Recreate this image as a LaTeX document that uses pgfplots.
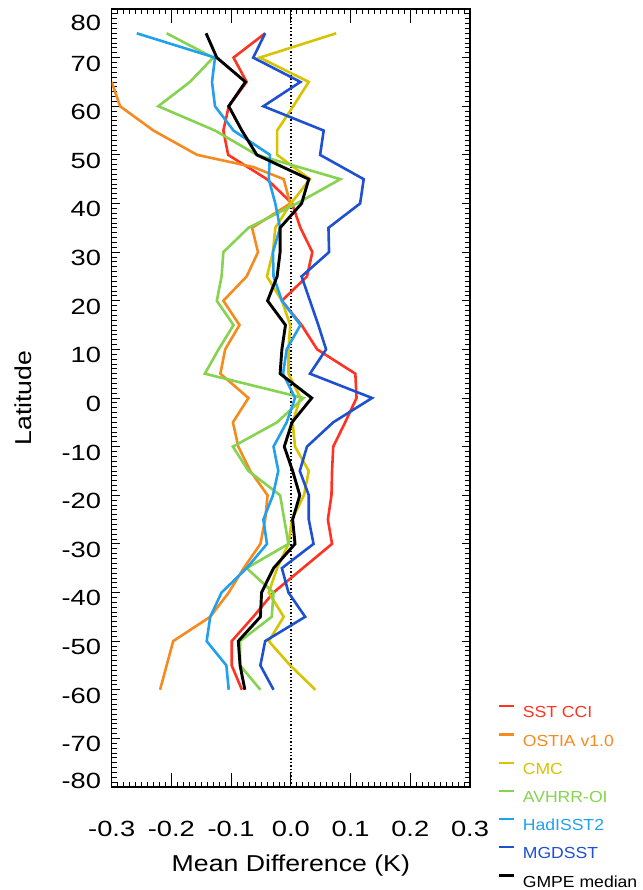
\documentclass[border=0pt]{standalone}
\usepackage{pgfplots}
\pgfplotsset{compat=1.18}
\usepackage{fontspec}
\setmainfont{Liberation Sans}[FakeStretch=1.16]
\newfontfamily\tickfont{Liberation Sans}[FakeStretch=1.24]
\newfontfamily\legfont{Liberation Sans}[FakeStretch=1.1]
\definecolor{csst}{HTML}{FF3322}
\definecolor{costia}{HTML}{F58A1F}
\definecolor{ccmc}{HTML}{D8C300}
\definecolor{cavhrr}{HTML}{85D34E}
\definecolor{chad}{HTML}{22A0EE}
\definecolor{cmgd}{HTML}{1E50D2}
\newcommand\yl[2]{\raisebox{-#1pt}[0pt][0pt]{#2}}
\begin{document}
\begin{tikzpicture}
\path[use as bounding box] (-111.7pt,-103pt) rectangle (530.3pt,787pt);
\begin{axis}[
    at={(0,0)}, anchor=south west,
    scale only axis,
    width=358.3pt, height=778pt,
    xmin=-0.3, xmax=0.3,
    ymin=-80, ymax=80,
    xtick={-0.3,-0.2,-0.1,0,0.1,0.2,0.3},
    xticklabels={-0.3,-0.2,-0.1,0.0,0.1,0.2,0.3},
    ytick={-80,-70,-60,-50,-40,-30,-20,-10,0,10,20,30,40,50,60,70,80},
    yticklabels={\yl{1.9}{-80},\yl{13.4}{-70},\yl{13.4}{-60},\yl{13.4}{-50},\yl{13.4}{-40},\yl{13.4}{-30},\yl{13.4}{-20},\yl{13.4}{-10},\yl{13.4}{0},\yl{13.4}{10},\yl{13.4}{20},\yl{13.4}{30},\yl{13.4}{40},\yl{13.4}{50},\yl{13.4}{60},\yl{13.4}{70},\yl{21.9}{80}},
    minor x tick num=9,
    minor y tick num=9,
    tick align=inside,
    major tick length=8pt,
    minor tick length=5pt,
    xtick style={/pgfplots/major tick length=14pt},
    tick style={black, line width=0.8pt},
    axis line style={line width=1.2pt},
    ticklabel style={font=\tickfont\fontsize{22}{26}\selectfont},
    xticklabel style={anchor=base, yshift=-49.7pt},
    yticklabel style={anchor=east, inner sep=0pt, xshift=-10.5pt},
    xlabel={Mean Difference (K)},
    ylabel={Latitude},
    label style={font=\fontsize{23}{27}\selectfont},
    xlabel style={at={(axis description cs:0.5,-0.1089)}, anchor=base},
    ylabel style={at={(axis description cs:-0.2477,0.5)}, anchor=center},
    legend style={at={(axis description cs:1.078,0.1054)}, anchor=north west,
        draw=none, fill=none, inner sep=0pt, row sep=15.6pt, column sep=7.5pt,
        font=\legfont\fontsize{16}{18}\selectfont,
        nodes={inner sep=0pt, text height=11.5pt, text depth=0pt}},
    legend cell align=left,
    legend image code/.code={\draw[#1, line width=2.2pt] (0pt,5.75pt) -- (15pt,5.75pt);},
]
\addplot[black, dotted, line width=1.4pt, forget plot] coordinates {(0,-80) (0,80)};
% SST CCI
\addplot[csst, line width=2.6pt] coordinates {
(-0.082,-60) (-0.099,-55) (-0.099,-50) (-0.063,-45) (-0.029,-40) (0.020,-35)
(0.069,-30) (0.062,-25) (0.068,-20) (0.069,-15) (0.071,-10) (0.091,-5)
(0.110,0) (0.108,5) (0.044,10) (0.018,15) (-0.015,20) (0.027,25)
(0.036,30) (0.016,35) (0.002,40) (-0.040,45) (-0.105,50) (-0.113,55)
(-0.104,60) (-0.074,65) (-0.096,70) (-0.043,75)
};
\addlegendentry{\textcolor{csst}{SST CCI}}
% OSTIA v1.0
\addplot[costia, line width=2.6pt] coordinates {
(-0.219,-60) (-0.208,-55) (-0.197,-50) (-0.135,-45) (-0.104,-40) (-0.079,-35)
(-0.051,-30) (-0.043,-25) (-0.039,-20) (-0.068,-15) (-0.088,-10) (-0.097,-5)
(-0.071,0) (-0.118,5) (-0.110,10) (-0.086,15) (-0.113,20) (-0.074,25)
(-0.055,30) (-0.065,35) (-0.001,40) (-0.012,45) (-0.063,47.5) (-0.157,50)
(-0.230,55) (-0.286,60) (-0.300,65)
};
\addlegendentry{\textcolor{costia}{OSTIA v1.0}}
% CMC
\addplot[ccmc, line width=2.6pt] coordinates {
(0.041,-60) (-0.001,-55) (-0.037,-50) (-0.012,-45) (-0.037,-40) (-0.023,-35)
(-0.004,-30) (0.002,-25) (0.022,-20) (0.030,-15) (0.007,-10) (0.003,-5)
(0.016,0) (-0.004,5) (-0.004,10) (-0.001,15) (-0.015,20) (-0.040,25)
(-0.030,30) (-0.026,35) (0.000,40) (0.032,45) (-0.023,50) (-0.023,55)
(0.004,60) (0.030,65) (-0.052,70) (0.076,75)
};
\addlegendentry{\textcolor{ccmc}{CMC}}
% AVHRR-OI
\addplot[cavhrr, line width=2.6pt] coordinates {
(-0.051,-60) (-0.085,-55) (-0.085,-50) (-0.032,-45) (-0.029,-40) (-0.074,-35)
(-0.004,-30) (-0.011,-25) (-0.018,-20) (-0.071,-15) (-0.097,-10) (-0.023,-5)
(0.021,0) (-0.144,5) (-0.121,10) (-0.096,15) (-0.124,20) (-0.116,25)
(-0.113,30) (-0.071,35) (0.010,40) (0.083,45) (-0.057,50) (-0.127,55)
(-0.222,60) (-0.169,65) (-0.130,70) (-0.208,75)
};
\addlegendentry{\textcolor{cavhrr}{AVHRR-OI}}
% HadISST2
\addplot[chad, line width=2.6pt] coordinates {
(-0.104,-60) (-0.108,-55) (-0.141,-50) (-0.135,-45) (-0.116,-40) (-0.074,-35)
(-0.040,-30) (-0.046,-25) (-0.030,-20) (-0.021,-15) (-0.029,-10) (-0.007,-5)
(0.007,0) (-0.013,5) (-0.007,10) (0.016,15) (-0.015,20) (-0.029,25)
(-0.030,30) (-0.018,35) (-0.026,40) (-0.037,45) (-0.035,50) (-0.096,55)
(-0.127,60) (-0.132,65) (-0.127,70) (-0.258,75)
};
\addlegendentry{\textcolor{chad}{HadISST2}}
% MGDSST
\addplot[cmgd, line width=2.6pt] coordinates {
(-0.029,-60) (-0.051,-55) (-0.043,-50) (0.024,-45) (-0.004,-40) (-0.015,-35)
(0.038,-30) (0.030,-25) (0.030,-20) (0.015,-15) (0.027,-10) (0.071,-5)
(0.136,0) (0.032,5) (0.059,10) (0.046,15) (0.032,20) (0.018,25)
(0.064,30) (0.063,35) (0.116,40) (0.122,45) (0.049,50) (0.055,55)
(-0.046,60) (0.016,65) (-0.063,70) (-0.043,75)
};
\addlegendentry{\textcolor{cmgd}{MGDSST}}
% GMPE median
\addplot[black, line width=2.9pt] coordinates {
(-0.077,-60) (-0.085,-55) (-0.088,-50) (-0.051,-45) (-0.049,-40) (-0.029,-35)
(0.007,-30) (0.003,-25) (0.015,-20) (0.003,-15) (-0.011,-10) (0.002,-5)
(0.035,0) (-0.018,5) (-0.015,10) (-0.009,15) (-0.039,20) (-0.023,25)
(-0.018,30) (-0.018,35) (0.018,40) (0.030,45) (-0.057,50) (-0.082,55)
(-0.104,60) (-0.076,65) (-0.124,70) (-0.142,75)
};
\addlegendentry{\textcolor{black}{GMPE median}}
\end{axis}
\end{tikzpicture}
\end{document}
